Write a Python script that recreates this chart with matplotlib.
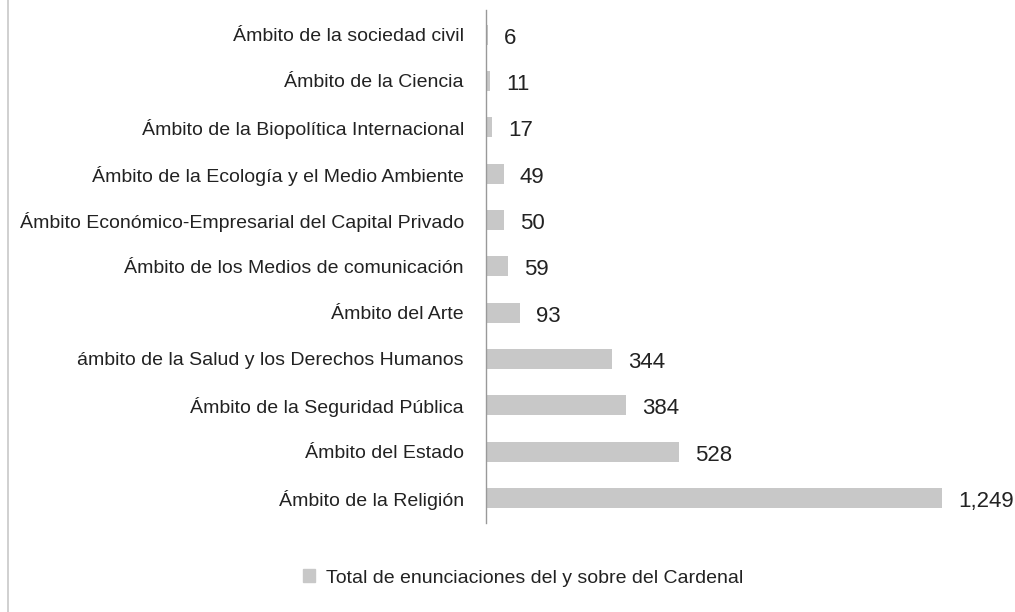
import matplotlib.pyplot as plt
from matplotlib.lines import Line2D
from matplotlib.patches import Patch

plt.rcParams['font.family'] = ['Liberation Sans', 'DejaVu Sans']

categorias = [
    "Ámbito de la sociedad civil",
    "Ámbito de la Ciencia",
    "Ámbito de la Biopolítica Internacional",
    "Ámbito de la Ecología y el Medio Ambiente",
    "Ámbito Económico-Empresarial del Capital Privado",
    "Ámbito de los Medios de comunicación",
    "Ámbito del Arte",
    "ámbito de la Salud y los Derechos Humanos",
    "Ámbito de la Seguridad Pública",
    "Ámbito del Estado",
    "Ámbito de la Religión",
]
valores = [6, 11, 17, 49, 50, 59, 93, 344, 384, 528, 1249]
serie = "Total de enunciaciones del y sobre del Cardenal"

W, H = 1015, 612
fig = plt.figure(figsize=(W / 100, H / 100), dpi=100)
ax = fig.add_axes([486 / W, (H - 523) / H, (942 - 486) / W, 513 / H])

y = list(range(len(categorias)))
ax.barh(y, valores, height=0.43, color="#c8c8c8")
ax.set_xlim(0, 1249)
ax.set_ylim(10.54, -0.53)

# value labels sit a touch below the bar centre, as in the original
for yi, v in zip(y, valores):
    ax.text(v + 44, yi + 0.08, f"{v:,}", va="center", ha="left", fontsize=16,
            color="#222222", clip_on=False)

ax.set_yticks(y)
ax.set_yticklabels(categorias, fontsize=14, color="#222222")
ax.tick_params(axis="y", length=0, pad=16)
ax.set_xticks([])
for s in ["top", "right", "bottom"]:
    ax.spines[s].set_visible(False)
ax.spines["left"].set_color("#999999")
ax.spines["left"].set_linewidth(1)

# left border of the chart frame
fig.add_artist(Line2D([7.5 / W, 7.5 / W], [0, 1], color="#c8c8c8", lw=1.2))

fig.legend(handles=[Patch(color="#c8c8c8", label=serie)],
           loc="center", bbox_to_anchor=(523 / W, 1 - 578 / H), frameon=False,
           fontsize=14, handlelength=0.65, handleheight=0.65, handletextpad=0.55,
           labelcolor="#222222")

fig.savefig("out.png", dpi=100)
